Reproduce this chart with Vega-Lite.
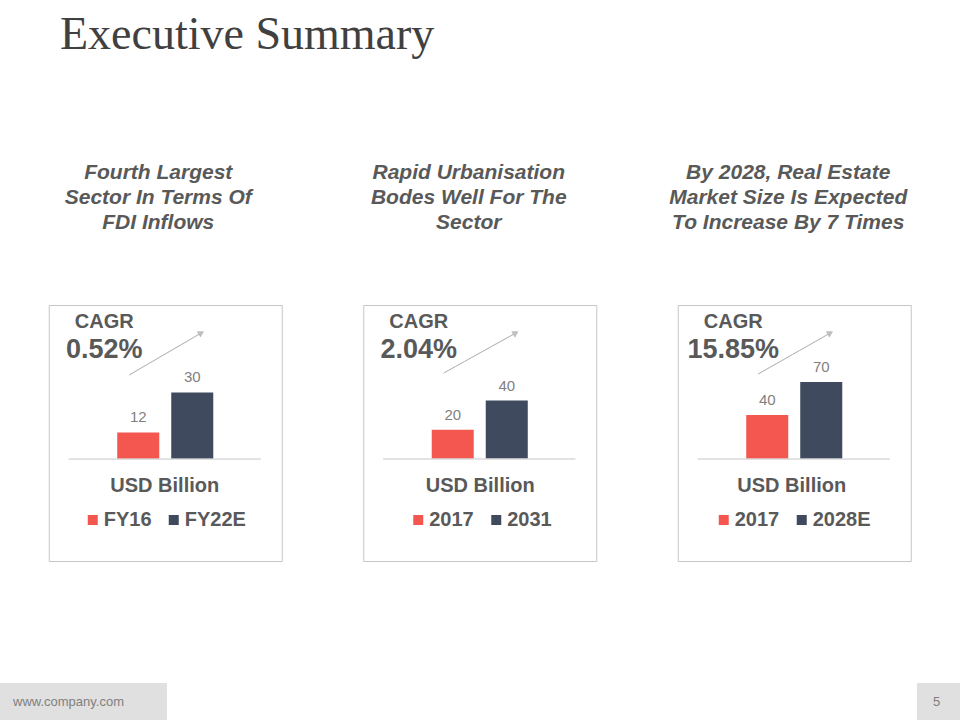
{
  "$schema": "https://vega.github.io/schema/vega-lite/v6.json",
  "background": "white",
  "padding": {"top": 11, "left": 0, "right": 0, "bottom": 0},
  "title": {"text": "Executive Summary", "font": "Liberation Serif", "fontSize": 46, "fontWeight": "normal", "color": "#404040", "anchor": "start", "dx": 60, "offset": 103},
  "config": {
    "font": "Liberation Sans",
    "view": {"stroke": "#c6c6c6", "strokeWidth": 1},
    "legend": {"orient": "none", "direction": "horizontal", "titleAnchor": "middle", "titleFont": "Liberation Sans", "titleFontSize": 20, "titleFontWeight": "bold", "titleColor": "#595959", "titlePadding": 14, "labelFont": "Liberation Sans", "labelFontSize": 20, "labelFontWeight": "bold", "labelColor": "#595959", "symbolType": "square", "symbolSize": 100, "symbolStrokeWidth": 0, "labelOffset": 1, "columnPadding": 12}
  },
  "spacing": 121,
  "center": true,
  "vconcat": [
    {
      "spacing": 81.5,
      "bounds": "flush",
      "resolve": {"scale": {"x": "independent", "y": "independent", "color": "independent"}, "legend": {"color": "independent"}},
      "hconcat": [
        {
          "width": 233, "height": 256,
          "title": {"text": ["Fourth Largest", "Sector In  Terms Of", "FDI Inflows"], "font": "Liberation Sans", "fontSize": 21, "fontStyle": "italic", "fontWeight": "bold", "color": "#595959", "lineHeight": 25, "anchor": "middle", "dx": -7, "offset": 72},
          "data": {"values": [{"period": "FY16", "value": 12, "cagr": "0.52%"}, {"period": "FY22E", "value": 30, "cagr": "0.52%"}]},
          "layer": [
            {"mark": {"type": "bar"},
             "encoding": {
               "x": {"field": "period", "type": "nominal", "sort": null, "axis": null, "scale": {"domain": [" ", "FY16", "FY22E", "  "], "paddingInner": 0.222, "paddingOuter": 0.268}},
               "y": {"field": "value", "type": "quantitative", "axis": null, "scale": {"domain": [-45.9, 69.4], "nice": false, "zero": false}},
               "color": {"field": "period", "type": "nominal", "sort": null, "scale": {"domain": ["FY16", "FY22E"], "range": ["#F4574F", "#3F4A5F"]}, "legend": {"title": "USD Billion", "legendX": 34, "legendY": 171}}
             }},
            {"mark": {"type": "rule", "color": "#d9d9d9", "strokeWidth": 1},
             "encoding": {"x": {"datum": " ", "bandPosition": 0.13}, "x2": {"datum": "  ", "bandPosition": 0.845}, "y": {"datum": 0}}},
            {"mark": {"type": "text", "baseline": "bottom", "dy": -7, "fontSize": 15, "color": "#7f7f7f"},
             "encoding": {"x": {"field": "period", "type": "nominal", "sort": null}, "y": {"field": "value", "type": "quantitative"}, "text": {"field": "value"}}},
            {"mark": {"type": "rule", "color": "#bfbfbf", "strokeWidth": 1},
             "encoding": {"x": {"datum": "FY16", "bandPosition": 0.286}, "x2": {"datum": "FY22E", "bandPosition": 0.714}, "y": {"datum": 37.9}, "y2": {"datum": 56.8}}},
            {"mark": {"type": "point", "shape": "triangle-right", "angle": -30, "size": 45, "filled": true, "color": "#bfbfbf", "opacity": 1},
             "encoding": {"x": {"datum": "FY22E", "bandPosition": 0.714}, "y": {"datum": 56.8}}},
            {"transform": [{"filter": "datum.period === 'FY16'"}],
             "mark": {"type": "text", "text": "CAGR", "fontSize": 20, "fontWeight": "bold", "color": "#595959", "align": "center", "baseline": "middle", "dx": -34},
             "encoding": {"x": {"datum": "FY16"}, "y": {"datum": 61.7}}},
            {"transform": [{"filter": "datum.period === 'FY16'"}],
             "mark": {"type": "text", "fontSize": 27, "fontWeight": "bold", "color": "#595959", "align": "center", "baseline": "middle", "dx": -34},
             "encoding": {"x": {"datum": "FY16"}, "y": {"datum": 49.1}, "text": {"field": "cagr"}}}
          ]
        },
        {
          "width": 233, "height": 256,
          "title": {"text": ["Rapid Urbanisation", "Bodes Well For The", "Sector"], "font": "Liberation Sans", "fontSize": 21, "fontStyle": "italic", "fontWeight": "bold", "color": "#595959", "lineHeight": 25, "anchor": "middle", "dx": -11, "offset": 72},
          "data": {"values": [{"period": "2017", "value": 20, "cagr": "2.04%"}, {"period": "2031", "value": 40, "cagr": "2.04%"}]},
          "layer": [
            {"mark": {"type": "bar"},
             "encoding": {
               "x": {"field": "period", "type": "nominal", "sort": null, "axis": null, "scale": {"domain": [" ", "2017", "2031", "  "], "paddingInner": 0.222, "paddingOuter": 0.268}},
               "y": {"field": "value", "type": "quantitative", "axis": null, "scale": {"domain": [-69.9, 105.5], "nice": false, "zero": false}},
               "color": {"field": "period", "type": "nominal", "sort": null, "scale": {"domain": ["2017", "2031"], "range": ["#F4574F", "#3F4A5F"]}, "legend": {"title": "USD Billion", "legendX": 45, "legendY": 171}}
             }},
            {"mark": {"type": "rule", "color": "#d9d9d9", "strokeWidth": 1},
             "encoding": {"x": {"datum": " ", "bandPosition": 0.13}, "x2": {"datum": "  ", "bandPosition": 0.845}, "y": {"datum": 0}}},
            {"mark": {"type": "text", "baseline": "bottom", "dy": -7, "fontSize": 15, "color": "#7f7f7f"},
             "encoding": {"x": {"field": "period", "type": "nominal", "sort": null}, "y": {"field": "value", "type": "quantitative"}, "text": {"field": "value"}}},
            {"mark": {"type": "rule", "color": "#bfbfbf", "strokeWidth": 1},
             "encoding": {"x": {"datum": "2017", "bandPosition": 0.286}, "x2": {"datum": "2031", "bandPosition": 0.714}, "y": {"datum": 58.9}, "y2": {"datum": 86.3}}},
            {"mark": {"type": "point", "shape": "triangle-right", "angle": -30, "size": 45, "filled": true, "color": "#bfbfbf", "opacity": 1},
             "encoding": {"x": {"datum": "2031", "bandPosition": 0.714}, "y": {"datum": 86.3}}},
            {"transform": [{"filter": "datum.period === '2017'"}],
             "mark": {"type": "text", "text": "CAGR", "fontSize": 20, "fontWeight": "bold", "color": "#595959", "align": "center", "baseline": "middle", "dx": -34},
             "encoding": {"x": {"datum": "2017"}, "y": {"datum": 93.9}}},
            {"transform": [{"filter": "datum.period === '2017'"}],
             "mark": {"type": "text", "fontSize": 27, "fontWeight": "bold", "color": "#595959", "align": "center", "baseline": "middle", "dx": -34},
             "encoding": {"x": {"datum": "2017"}, "y": {"datum": 74.7}, "text": {"field": "cagr"}}}
          ]
        },
        {
          "width": 233, "height": 256,
          "title": {"text": ["By 2028, Real Estate", "Market Size Is Expected", "To Increase By 7 Times"], "font": "Liberation Sans", "fontSize": 21, "fontStyle": "italic", "fontWeight": "bold", "color": "#595959", "lineHeight": 25, "anchor": "middle", "dx": -6, "offset": 72},
          "data": {"values": [{"period": "2017", "value": 40, "cagr": "15.85%"}, {"period": "2028E", "value": 70, "cagr": "15.85%"}]},
          "layer": [
            {"mark": {"type": "bar"},
             "encoding": {
               "x": {"field": "period", "type": "nominal", "sort": null, "axis": null, "scale": {"domain": [" ", "2017", "2028E", "  "], "paddingInner": 0.222, "paddingOuter": 0.268}},
               "y": {"field": "value", "type": "quantitative", "axis": null, "scale": {"domain": [-92.7, 140], "nice": false, "zero": false}},
               "color": {"field": "period", "type": "nominal", "sort": null, "scale": {"domain": ["2017", "2028E"], "range": ["#F4574F", "#3F4A5F"]}, "legend": {"title": "USD Billion", "legendX": 36, "legendY": 171}}
             }},
            {"mark": {"type": "rule", "color": "#d9d9d9", "strokeWidth": 1},
             "encoding": {"x": {"datum": " ", "bandPosition": 0.13}, "x2": {"datum": "  ", "bandPosition": 0.845}, "y": {"datum": 0}}},
            {"mark": {"type": "text", "baseline": "bottom", "dy": -7, "fontSize": 15, "color": "#7f7f7f"},
             "encoding": {"x": {"field": "period", "type": "nominal", "sort": null}, "y": {"field": "value", "type": "quantitative"}, "text": {"field": "value"}}},
            {"mark": {"type": "rule", "color": "#bfbfbf", "strokeWidth": 1},
             "encoding": {"x": {"datum": "2017", "bandPosition": 0.286}, "x2": {"datum": "2028E", "bandPosition": 0.714}, "y": {"datum": 77.3}, "y2": {"datum": 114.5}}},
            {"mark": {"type": "point", "shape": "triangle-right", "angle": -30, "size": 45, "filled": true, "color": "#bfbfbf", "opacity": 1},
             "encoding": {"x": {"datum": "2028E", "bandPosition": 0.714}, "y": {"datum": 114.5}}},
            {"transform": [{"filter": "datum.period === '2017'"}],
             "mark": {"type": "text", "text": "CAGR", "fontSize": 20, "fontWeight": "bold", "color": "#595959", "align": "center", "baseline": "middle", "dx": -34},
             "encoding": {"x": {"datum": "2017"}, "y": {"datum": 124.5}}},
            {"transform": [{"filter": "datum.period === '2017'"}],
             "mark": {"type": "text", "fontSize": 27, "fontWeight": "bold", "color": "#595959", "align": "center", "baseline": "middle", "dx": -34},
             "encoding": {"x": {"datum": "2017"}, "y": {"datum": 99.1}, "text": {"field": "cagr"}}}
          ]
        }
      ]
    },
    {
      "spacing": 750,
      "hconcat": [
        {"width": 167, "height": 37, "view": {"fill": "#e0e0e0", "stroke": null},
         "data": {"values": [{"label": "www.company.com"}]},
         "mark": {"type": "text", "fontSize": 13, "color": "#7f7f7f", "dx": -15},
         "encoding": {"text": {"field": "label"}}},
        {"width": 43, "height": 37, "view": {"fill": "#e0e0e0", "stroke": null},
         "data": {"values": [{"label": "5"}]},
         "mark": {"type": "text", "fontSize": 13, "color": "#7f7f7f", "dx": -2},
         "encoding": {"text": {"field": "label"}}}
      ]
    }
  ]
}
